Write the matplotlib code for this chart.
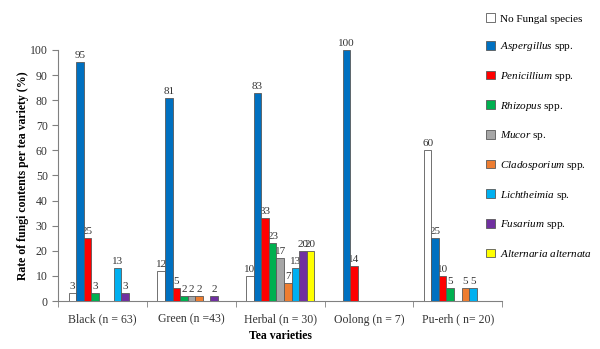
import numpy as np
import matplotlib
matplotlib.use("Agg")
import matplotlib.pyplot as plt
from matplotlib.patches import Patch

plt.rcParams['font.family'] = ['Liberation Serif', 'DejaVu Serif']
plt.rcParams['mathtext.fontset'] = 'custom'
plt.rcParams['mathtext.it'] = 'Liberation Serif:italic'
plt.rcParams['mathtext.rm'] = 'Liberation Serif'

categories = ["Black (n = 63)", "Green (n =43)", "Herbal (n = 30)", "Oolong (n = 7)", "Pu-erh ( n= 20)"]
series_names = [
    "No Fungal species",
    r"$\it{Aspergillus}$ spp.",
    r"$\it{Penicillium}$ spp.",
    r"$\it{Rhizopus}$ spp.",
    r"$\it{Mucor}$ sp.",
    r"$\it{Cladosporium}$ spp.",
    r"$\it{Lichtheimia}$ sp.",
    r"$\it{Fusarium}$ spp.",
    r"$\it{Alternaria\ alternata}$",
]
no_fungal = [3, 12, 10, 0, 60]
aspergillus = [95, 81, 83, 100, 25]
penicillium = [25, 5, 33, 14, 10]
rhizopus = [3, 2, 23, 0, 5]
mucor = [0, 2, 17, 0, 0]
cladosporium = [0, 2, 7, 0, 5]
lichtheimia = [13, 0, 13, 0, 5]
fusarium = [3, 2, 20, 0, 0]
alternaria = [0, 0, 20, 0, 0]
values = [no_fungal, aspergillus, penicillium, rhizopus, mucor,
          cladosporium, lichtheimia, fusarium, alternaria]
colors = ["#FFFFFF", "#0070C0", "#FF0000", "#00B050", "#A6A6A6",
          "#ED7D31", "#00B0F0", "#7030A0", "#FFFF00"]

fig = plt.figure(figsize=(6, 3.49), dpi=100)
ax = fig.add_axes([0.097, 0.1375, 0.74, 0.7195])

x = np.arange(len(categories))
w = 0.085
for j, (vals, c) in enumerate(zip(values, colors)):
    pos = x + (j - 4) * w
    ax.bar(pos, vals, width=w, color=c, edgecolor="#595959", linewidth=0.6, zorder=3)
    for p, v in zip(pos, vals):
        if v > 0:
            ax.text(p, v + 0.8, str(v), ha="center", va="bottom", fontsize=8,
                    color="#333333", zorder=2)

ax.set_xlim(-0.5, len(categories) - 0.5)
ax.set_ylim(0, 100)
ax.set_yticks(range(0, 101, 10))
ax.set_xticks(x)
ax.set_xticklabels(categories)
ax.set_xticks(np.arange(-0.5, len(categories)), minor=True)
ax.tick_params(axis="x", which="major", length=0, pad=9, labelsize=8.5, colors="#333333")
ax.tick_params(axis="x", which="minor", length=4, direction="out", color="#808080")
ax.tick_params(axis="y", length=4, direction="out", labelsize=8.5, colors="#333333", color="#808080")
for s in ["top", "right"]:
    ax.spines[s].set_visible(False)
for s in ["left", "bottom"]:
    ax.spines[s].set_color("#808080")

ax.set_xlabel("Tea varieties", fontweight="bold", fontsize=8.5, labelpad=3)
ax.set_ylabel("Rate of fungi contents per tea variety (%)", fontweight="bold", fontsize=8.5, labelpad=1)

handles = [Patch(facecolor=c, edgecolor="#595959", linewidth=0.6) for c in colors]
fig.legend(handles, series_names, loc="upper left", bbox_to_anchor=(0.793, 0.99),
           frameon=False, fontsize=8, handlelength=0.8, handleheight=0.8,
           handletextpad=0.45, labelspacing=1.5)

fig.savefig("out.png", dpi=100)
